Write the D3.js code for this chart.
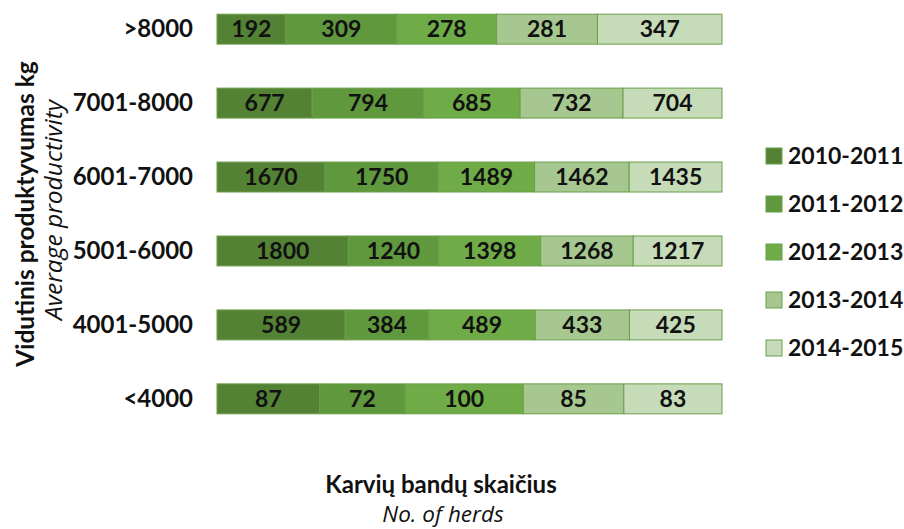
<!DOCTYPE html>
<html>
<head>
<meta charset="utf-8">
<script src="https://cdn.jsdelivr.net/npm/d3@7"></script>
<style>
  body { margin: 0; background: #fff; }
  svg text { font-family: Lato, "Open Sans", sans-serif; fill: #111; }
</style>
</head>
<body>
<div id="chart"></div>
<script>
// categories, top row first
const groups = [">8000", "7001-8000", "6001-7000", "5001-6000", "4001-5000", "<4000"];
const seasons = ["2010-2011", "2011-2012", "2012-2013", "2013-2014", "2014-2015"];

// herds per season, one array per season in the order of groups
const s2010 = [192, 677, 1670, 1800, 589, 87];
const s2011 = [309, 794, 1750, 1240, 384, 72];
const s2012 = [278, 685, 1489, 1398, 489, 100];
const s2013 = [281, 732, 1462, 1268, 433, 85];
const s2014 = [347, 704, 1435, 1217, 425, 83];

const colors = ["#548235", "#5f983d", "#6fab47", "#a6c78f", "#c6dcb8"];

const width = 904;
const height = 529;

const rows = groups.map((g, i) => ({
    group: g,
    "2010-2011": s2010[i],
    "2011-2012": s2011[i],
    "2012-2013": s2012[i],
    "2013-2014": s2013[i],
    "2014-2015": s2014[i]
}));

const stacked = d3.stack()
    .keys(seasons)
    .offset(d3.stackOffsetExpand)(rows);

const svg = d3.select("#chart")
    .append("svg")
    .attr("width", width)
    .attr("height", height);

const x = d3.scaleLinear().domain([0, 1]).range([217, 722]);
const y = d3.scaleBand().domain(groups).range([-8, 436]).paddingInner(0.595).paddingOuter(0.3);

const color = d3.scaleOrdinal().domain(seasons).range(colors);

// bars
const layer = svg.selectAll("g.layer")
    .data(stacked)
    .enter()
    .append("g")
    .attr("class", "layer")
    .attr("fill", d => color(d.key));

layer.selectAll("rect")
    .data(d => d.map(p => ({ p, key: d.key })))
    .enter()
    .append("rect")
    .attr("x", d => x(d.p[0]))
    .attr("y", d => y(d.p.data.group))
    .attr("width", d => x(d.p[1]) - x(d.p[0]))
    .attr("height", y.bandwidth())
    .attr("stroke", "#6a9f48")
    .attr("stroke-width", 1);

layer.selectAll("text")
    .data(d => d.map(p => ({ p, key: d.key })))
    .enter()
    .append("text")
    .attr("x", d => (x(d.p[0]) + x(d.p[1])) / 2)
    .attr("y", d => y(d.p.data.group) + y.bandwidth() / 2)
    .attr("dy", "0.36em")
    .attr("text-anchor", "middle")
    .attr("font-size", 23)
    .attr("font-weight", "bold")
    .text(d => d.p.data[d.key]);

// category labels
const yAxis = d3.axisLeft(y).tickSize(0).tickPadding(0);
const ga = svg.append("g")
    .attr("transform", "translate(193,0)")
    .call(yAxis);
ga.select(".domain").remove();
ga.selectAll("text")
    .attr("font-size", 24)
    .attr("font-weight", "bold")
    .attr("fill", "#111")
    .style("font-family", "Lato, sans-serif");

// legend
const legend = svg.selectAll("g.legend")
    .data(seasons)
    .enter()
    .append("g")
    .attr("class", "legend")
    .attr("transform", (d, i) => `translate(766, ${156 + i * 48})`);

legend.append("rect")
    .attr("x", 0)
    .attr("y", -8)
    .attr("width", 16)
    .attr("height", 16)
    .attr("fill", d => color(d))
    .attr("stroke", "#6a9f48");

legend.append("text")
    .attr("x", 22)
    .attr("dy", "0.36em")
    .attr("font-size", 23)
    .attr("font-weight", "bold")
    .text(d => d);

// axis titles
svg.append("text")
    .attr("transform", "translate(25,214) rotate(-90)")
    .attr("text-anchor", "middle")
    .attr("dy", "0.36em")
    .attr("font-size", 24.5)
    .attr("font-weight", "bold")
    .text("Vidutinis produktyvumas kg");

svg.append("text")
    .attr("transform", "translate(53,210) rotate(-90)")
    .attr("text-anchor", "middle")
    .attr("dy", "0.36em")
    .attr("font-size", 24.5)
    .attr("font-style", "italic")
    .style("font-family", "'Open Sans', sans-serif")
    .text("Average productivity");

svg.append("text")
    .attr("x", 441)
    .attr("y", 484)
    .attr("text-anchor", "middle")
    .attr("dy", "0.36em")
    .attr("font-size", 24)
    .attr("font-weight", "bold")
    .text("Karvių bandų skaičius");

svg.append("text")
    .attr("x", 443)
    .attr("y", 514)
    .attr("text-anchor", "middle")
    .attr("dy", "0.36em")
    .attr("font-size", 22.5)
    .attr("font-style", "italic")
    .style("font-family", "'Open Sans', sans-serif")
    .text("No. of herds");
</script>
</body>
</html>
